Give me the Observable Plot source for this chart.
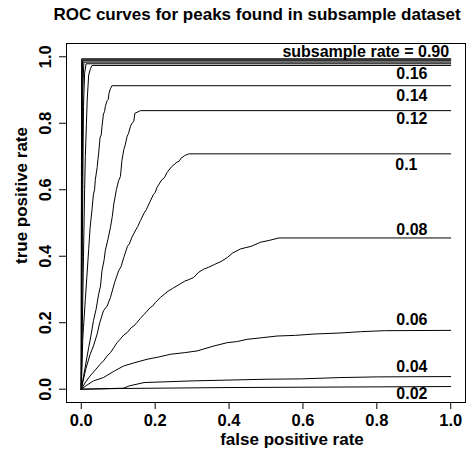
<!DOCTYPE html>
<html><head><meta charset="utf-8">
<script src="https://cdn.jsdelivr.net/npm/d3@7"></script>
<script src="https://cdn.jsdelivr.net/npm/@observablehq/plot@0.6"></script>
<style>
body{margin:0;background:#fff;font-family:"Liberation Sans",Arial,sans-serif;}
#title{height:30px;line-height:30px;font-size:17px;font-weight:bold;text-align:center;padding-left:42px;width:430px;white-space:nowrap;color:#000}
</style></head><body>
<div id="title">ROC curves for peaks found in subsample dataset</div>
<div id="chart"></div>
<script>
// subsample rates (series)
const rates = ["0.90","0.50","0.30","0.20","0.18","0.16","0.14","0.12","0.1","0.08","0.06","0.04","0.02"];

// ROC points (false positive rate / true positive rate)
const fpr_090 = [0, 0, 0.001, 1];
const tpr_090 = [0, 0.336, 0.994, 0.994];
const fpr_050 = [0, 0.001, 0.003, 1];
const tpr_050 = [0, 0.9, 0.991, 0.991];
const fpr_030 = [0, 0.001, 0.003, 0.005, 1];
const tpr_030 = [0, 0.6, 0.98, 0.988, 0.988];
const fpr_020 = [0, 0.002, 0.004, 0.007, 1];
const tpr_020 = [0, 0.5, 0.9, 0.984, 0.984];
const fpr_018 = [0, 0.002, 0.004, 0.006, 0.009, 0.013, 1];
const tpr_018 = [0, 0.3, 0.6, 0.85, 0.95, 0.979, 0.979];
const fpr_016 = [0, 0.003, 0.006, 0.009, 0.011, 0.014, 0.016, 0.02, 0.025, 0.029, 1];
const tpr_016 = [0, 0.2, 0.4, 0.6, 0.7, 0.8, 0.87, 0.945, 0.965, 0.974, 0.974];
const fpr_014 = [0, 0.004, 0.006, 0.011, 0.015, 0.02, 0.024, 0.029, 0.033, 0.036, 0.038, 0.043, 0.045, 0.047, 0.051, 0.054, 0.056, 0.06, 0.063, 0.065, 0.07, 0.073, 0.075, 0.079, 0.083, 1];
const tpr_014 = [0, 0.15, 0.186, 0.27, 0.336, 0.42, 0.487, 0.54, 0.587, 0.6, 0.63, 0.667, 0.69, 0.71, 0.758, 0.765, 0.79, 0.828, 0.835, 0.85, 0.868, 0.872, 0.89, 0.904, 0.913, 0.913];
const fpr_012 = [0, 0.02, 0.026, 0.033, 0.04, 0.047, 0.052, 0.056, 0.062, 0.065, 0.072, 0.079, 0.084, 0.088, 0.095, 0.101, 0.106, 0.11, 0.115, 0.119, 0.124, 0.128, 0.133, 0.137, 0.142, 0.145, 0.151, 0.16, 1];
const tpr_012 = [0, 0.125, 0.16, 0.206, 0.24, 0.286, 0.31, 0.356, 0.39, 0.417, 0.45, 0.487, 0.52, 0.557, 0.6, 0.627, 0.64, 0.688, 0.72, 0.735, 0.76, 0.77, 0.79, 0.8, 0.805, 0.83, 0.833, 0.838, 0.838];
const fpr_010 = [0, 0.012, 0.024, 0.033, 0.043, 0.05, 0.06, 0.07, 0.079, 0.09, 0.101, 0.108, 0.115, 0.125, 0.13, 0.137, 0.148, 0.153, 0.16, 0.17, 0.176, 0.183, 0.195, 0.2, 0.205, 0.218, 0.225, 0.232, 0.245, 0.259, 0.265, 0.27, 0.28, 0.291, 1];
const tpr_010 = [0, 0.06, 0.105, 0.13, 0.166, 0.2, 0.236, 0.25, 0.276, 0.32, 0.356, 0.37, 0.396, 0.43, 0.437, 0.457, 0.48, 0.49, 0.507, 0.53, 0.54, 0.557, 0.585, 0.592, 0.607, 0.63, 0.636, 0.652, 0.67, 0.683, 0.686, 0.695, 0.703, 0.708, 0.708];
const fpr_008 = [0, 0.012, 0.024, 0.038, 0.051, 0.06, 0.07, 0.079, 0.088, 0.097, 0.105, 0.115, 0.124, 0.135, 0.142, 0.151, 0.16, 0.17, 0.187, 0.193, 0.2, 0.214, 0.224, 0.235, 0.247, 0.259, 0.28, 0.292, 0.304, 0.318, 0.331, 0.345, 0.36, 0.378, 0.395, 0.41, 0.431, 0.46, 0.485, 0.51, 0.535, 1];
const tpr_008 = [0, 0.022, 0.04, 0.058, 0.075, 0.085, 0.1, 0.11, 0.125, 0.14, 0.15, 0.163, 0.17, 0.185, 0.19, 0.201, 0.213, 0.225, 0.246, 0.25, 0.26, 0.276, 0.285, 0.295, 0.303, 0.311, 0.325, 0.33, 0.336, 0.352, 0.361, 0.367, 0.375, 0.384, 0.396, 0.41, 0.422, 0.43, 0.442, 0.448, 0.455, 0.455];
const fpr_006 = [0, 0.015, 0.033, 0.06, 0.09, 0.115, 0.145, 0.178, 0.21, 0.241, 0.28, 0.313, 0.359, 0.395, 0.42, 0.449, 0.49, 0.53, 0.58, 0.63, 0.7, 0.756, 0.82, 1];
const tpr_006 = [0, 0.012, 0.025, 0.035, 0.055, 0.07, 0.08, 0.09, 0.097, 0.105, 0.11, 0.115, 0.13, 0.14, 0.143, 0.15, 0.155, 0.16, 0.162, 0.166, 0.169, 0.173, 0.176, 0.177];
const fpr_004 = [0, 0.114, 0.13, 0.17, 0.3, 0.5, 0.594, 0.7, 0.8, 1];
const tpr_004 = [0, 0.003, 0.01, 0.02, 0.025, 0.03, 0.031, 0.035, 0.037, 0.038];
const fpr_002 = [0, 0.1, 0.4, 1];
const tpr_002 = [0, 0.002, 0.005, 0.008];

const fprs = [fpr_090, fpr_050, fpr_030, fpr_020, fpr_018, fpr_016, fpr_014, fpr_012, fpr_010, fpr_008, fpr_006, fpr_004, fpr_002];
const tprs = [tpr_090, tpr_050, tpr_030, tpr_020, tpr_018, tpr_016, tpr_014, tpr_012, tpr_010, tpr_008, tpr_006, tpr_004, tpr_002];

// curve labels (text and their data-space anchor)
const labelText = ["subsample rate = 0.90", "0.16", "0.14", "0.12", "0.1", "0.08", "0.06", "0.04", "0.02"];
const labelX = [0.77, 0.895, 0.895, 0.895, 0.88, 0.895, 0.895, 0.895, 0.895];
const labelY = [1.014, 0.95, 0.883, 0.814, 0.676, 0.479, 0.209, 0.067, -0.013];

const xTicks = [0, 0.2, 0.4, 0.6, 0.8, 1.0];
const yTicks = [0, 0.2, 0.4, 0.6, 0.8, 1.0];

const rows = [];
rates.forEach((r, i) => fprs[i].forEach((f, j) => rows.push({rate: r, fpr: f, tpr: tprs[i][j]})));
const labels = labelText.map((t, i) => ({text: t, x: labelX[i], y: labelY[i]}));

const FONT = "Liberation Sans, Arial, sans-serif";
const chart = Plot.plot({
  width: 472, height: 430,
  marginTop: 13, marginBottom: 58, marginLeft: 66, marginRight: 7,
  x: {domain: [-0.04, 1.04]},
  y: {domain: [-0.04, 1.04]},
  style: {fontFamily: FONT, background: "white", color: "black"},
  marks: [
    Plot.frame({stroke: "black", strokeWidth: 1}),
    Plot.axisX({ticks: xTicks, tickSize: 7, tickPadding: 5, tickFormat: d => d.toFixed(1), fontSize: 16.5, fontWeight: "bold", label: null}),
    Plot.axisY({ticks: yTicks, tickSize: 7, tickFormat: () => "", label: null}),
    Plot.text(yTicks, {y: d => d, text: d => d.toFixed(1), frameAnchor: "left", textAnchor: "middle", rotate: -90, dx: -21, fontSize: 16.5, fontWeight: "bold"}),
    Plot.line(rows, {x: "fpr", y: "tpr", z: "rate", stroke: "black", strokeWidth: 1}),
    Plot.text(labels, {x: "x", y: "y", text: "text", fontSize: 16, fontWeight: "bold"}),
    Plot.text(["false positive rate"], {text: d => d, frameAnchor: "bottom", dx: 26, dy: 42, fontSize: 17, fontWeight: "bold"}),
    Plot.text(["true positive rate"], {text: d => d, frameAnchor: "left", textAnchor: "middle", rotate: -90, dx: -45, dy: -27.5, fontSize: 17, fontWeight: "bold"})
  ]
});
document.getElementById("chart").appendChild(chart);
</script>
</body></html>
